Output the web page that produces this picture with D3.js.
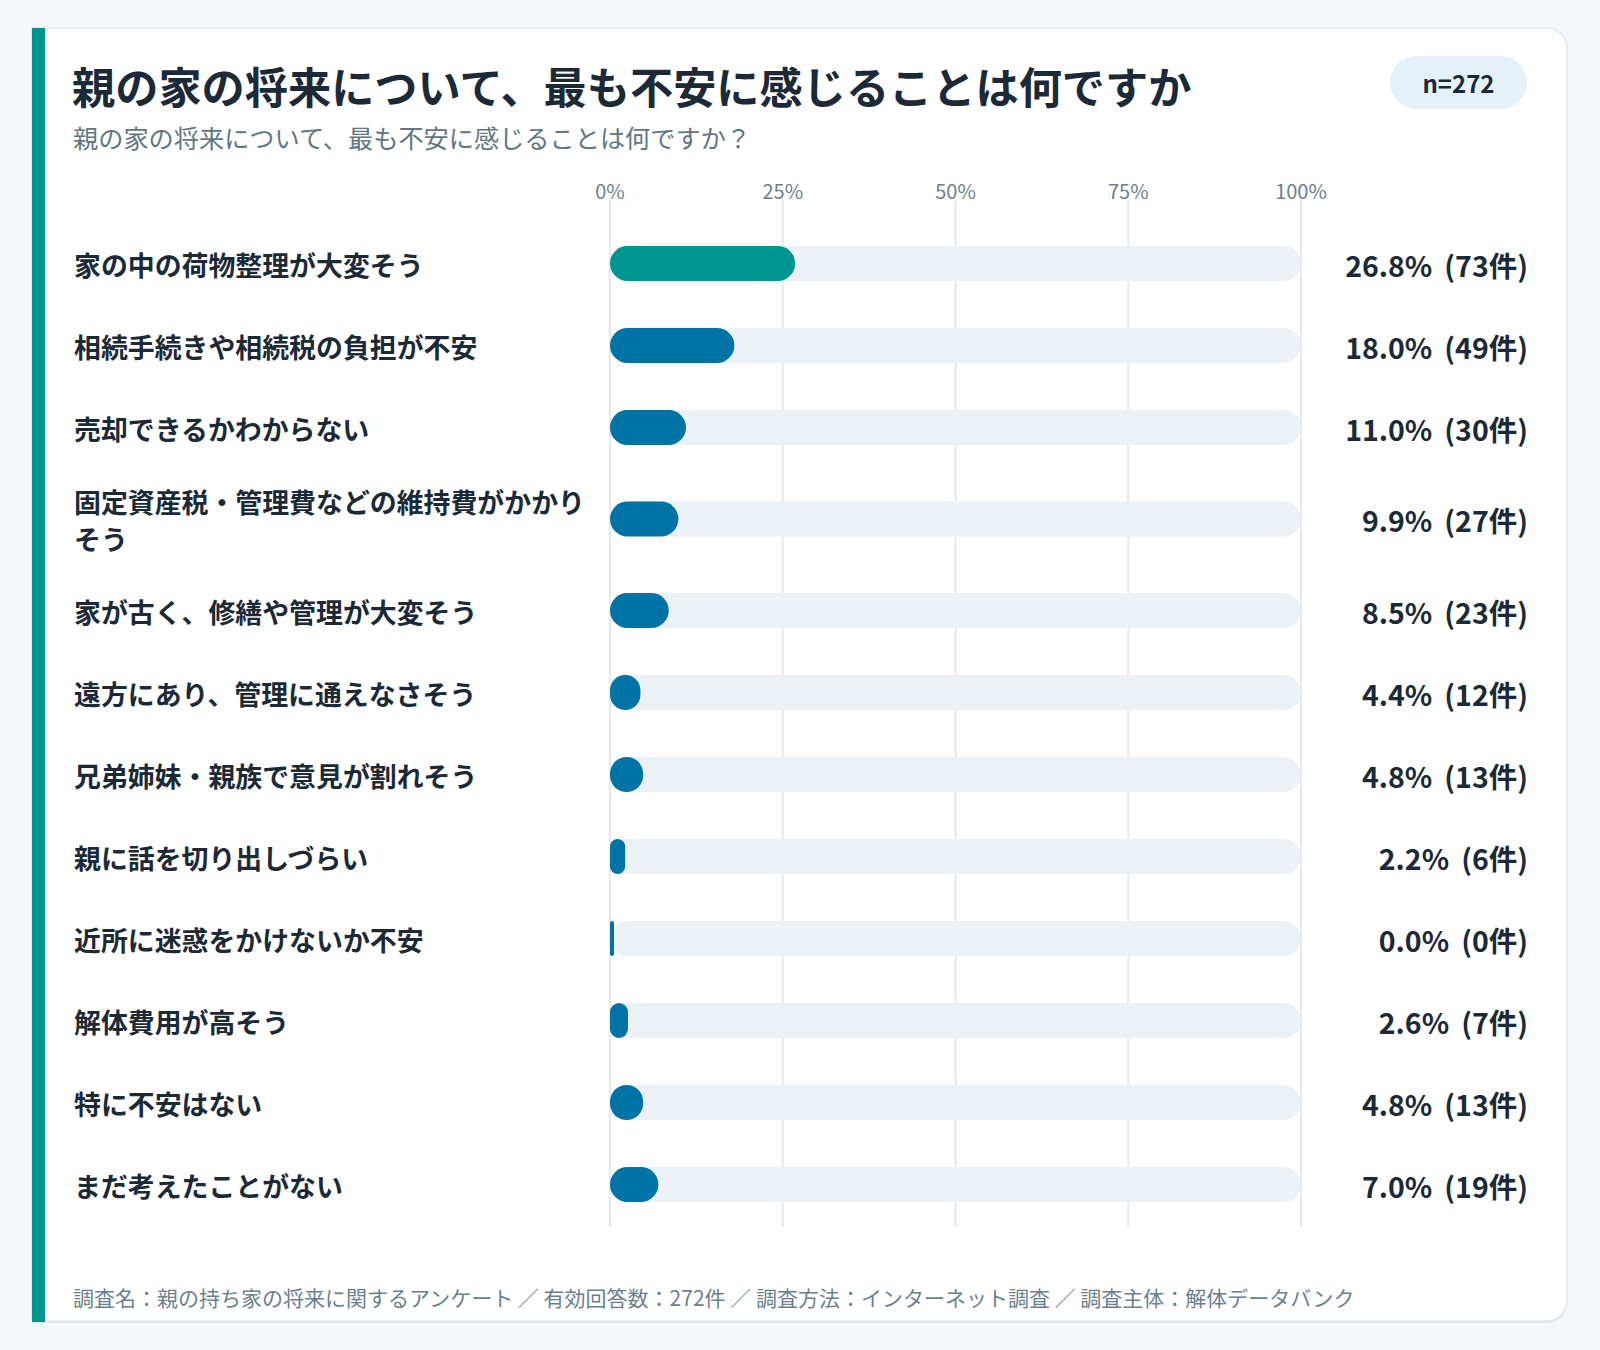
<!DOCTYPE html>
<html>
<head>
<meta charset="utf-8">
<script src="https://cdn.jsdelivr.net/npm/d3@7"></script>
<style>
  body { margin: 0; background: #f4f8fb; }
  svg { display: block; font-family: "Noto Sans CJK JP", "Noto Sans", sans-serif; }
</style>
</head>
<body>
<script>
var width = 1600;
var height = 1350;

var title = "親の家の将来について、最も不安に感じることは何ですか";
var subtitle = "親の家の将来について、最も不安に感じることは何ですか？";
var sampleLabel = "n=272";
var footnote = "調査名：親の持ち家の将来に関するアンケート ／ 有効回答数：272件 ／ 調査方法：インターネット調査 ／ 調査主体：解体データバンク";

var categories = [
    "家の中の荷物整理が大変そう",
    "相続手続きや相続税の負担が不安",
    "売却できるかわからない",
    "固定資産税・管理費などの維持費がかかりそう",
    "家が古く、修繕や管理が大変そう",
    "遠方にあり、管理に通えなさそう",
    "兄弟姉妹・親族で意見が割れそう",
    "親に話を切り出しづらい",
    "近所に迷惑をかけないか不安",
    "解体費用が高そう",
    "特に不安はない",
    "まだ考えたことがない"
];
var percents = [26.8, 18.0, 11.0, 9.9, 8.5, 4.4, 4.8, 2.2, 0.0, 2.6, 4.8, 7.0];
var counts = [73, 49, 30, 27, 23, 12, 13, 6, 0, 7, 13, 19];
var tickValues = [0, 25, 50, 75, 100];

var ink = "#1b2a36";
var muted = "#617684";

var svg = d3.select("body").append("svg")
    .attr("width", width)
    .attr("height", height);

// card
var cx0 = 32, cx1 = 1567, cy0 = 28, cy1 = 1321, r = 20;
function cardPath(dy) {
    return "M" + cx0 + "," + (cy0 + dy) +
        " H" + (cx1 - r) + " A" + r + "," + r + " 0 0 1 " + cx1 + "," + (cy0 + r + dy) +
        " V" + (cy1 - r + dy) + " A" + r + "," + r + " 0 0 1 " + (cx1 - r) + "," + (cy1 + dy) +
        " H" + cx0 + " Z";
}
svg.append("path").attr("d", cardPath(2)).attr("fill", "#dbe5eb");
svg.append("path").attr("d", cardPath(0))
    .attr("fill", "#fff")
    .attr("stroke", "#dfe7ed")
    .attr("stroke-width", 1.5);
svg.append("rect")
    .attr("x", cx0).attr("y", cy0)
    .attr("width", 13).attr("height", cy1 - cy0 + 1)
    .attr("fill", "#009690");

// header
svg.append("text")
    .attr("x", 72).attr("y", 85)
    .attr("dominant-baseline", "central")
    .attr("font-size", 43.2).attr("font-weight", 700)
    .attr("fill", ink)
    .text(title);

svg.append("text")
    .attr("x", 73).attr("y", 137)
    .attr("dominant-baseline", "central")
    .attr("font-size", 25.2)
    .attr("fill", muted)
    .text(subtitle);

svg.append("rect")
    .attr("x", 1390).attr("y", 56)
    .attr("width", 137).attr("height", 53)
    .attr("rx", 26.5)
    .attr("fill", "#e5f1f6");
svg.append("text")
    .attr("x", 1458.5).attr("y", 82.5)
    .attr("text-anchor", "middle")
    .attr("dominant-baseline", "central")
    .attr("font-size", 24).attr("font-weight", 700)
    .attr("fill", ink)
    .text(sampleLabel);

// scales
var x = d3.scaleLinear().domain([0, 100]).range([610, 1301]);
var barH = 35;
var labelX = 74;
var labelMax = 520;
var lineGap = 37;
var labelSize = 26.9;

// wrap labels by measuring
var measure = svg.append("text").attr("font-size", labelSize).attr("font-weight", 700);
function wrap(str) {
    var lines = [], cur = "";
    for (var i = 0; i < str.length; i++) {
        measure.text(cur + str[i]);
        if (cur && measure.node().getComputedTextLength() > labelMax) {
            lines.push(cur);
            cur = str[i];
        } else {
            cur += str[i];
        }
    }
    lines.push(cur);
    return lines;
}
var wrapped = categories.map(wrap);
measure.remove();

var rowTop = 222.5;
var centers = [];
wrapped.forEach(function (lines) {
    var h = 82 + 19 * (lines.length - 1);
    centers.push(rowTop + h / 2);
    rowTop += h;
});

// grid + axis labels
var axis = svg.append("g");
axis.selectAll("line")
    .data(tickValues)
    .enter()
    .append("line")
    .attr("x1", function (d) { return x(d); })
    .attr("x2", function (d) { return x(d); })
    .attr("y1", 200)
    .attr("y2", 1227)
    .attr("stroke", "#e4e9ee")
    .attr("stroke-width", 2);
axis.selectAll("text")
    .data(tickValues)
    .enter()
    .append("text")
    .attr("x", function (d) { return x(d); })
    .attr("y", 190)
    .attr("text-anchor", "middle")
    .attr("dominant-baseline", "central")
    .attr("font-size", 20)
    .attr("fill", "#6b7f8c")
    .text(function (d) { return d + "%"; });

var maxIndex = percents.indexOf(d3.max(percents));

var rows = svg.selectAll("g.row")
    .data(categories)
    .enter()
    .append("g")
    .attr("class", "row")
    .attr("transform", function (d, i) { return "translate(0," + centers[i] + ")"; });

rows.append("rect")
    .attr("x", x(0))
    .attr("y", -barH / 2)
    .attr("width", x(100) - x(0))
    .attr("height", barH)
    .attr("rx", barH / 2)
    .attr("fill", "#ecf1f5");

function barW(i) { return Math.max(x(percents[i]) - x(0), 4); }

rows.append("rect")
    .attr("x", x(0))
    .attr("y", -barH / 2)
    .attr("width", function (d, i) { return barW(i); })
    .attr("height", barH)
    .attr("rx", function (d, i) { return Math.min(barW(i), barH) / 2; })
    .attr("ry", function (d, i) { return Math.min(barW(i), barH) / 2; })
    .attr("fill", function (d, i) { return i === maxIndex ? "#009690" : "#0073a6"; });

rows.append("text")
    .attr("font-size", labelSize)
    .attr("font-weight", 700)
    .attr("fill", ink)
    .each(function (d, i) {
        var lines = wrapped[i];
        var t = d3.select(this);
        lines.forEach(function (line, j) {
            t.append("tspan")
                .attr("x", labelX)
                .attr("y", (j - (lines.length - 1) / 2) * lineGap + 1)
                .attr("dominant-baseline", "central")
                .text(line);
        });
    });

var values = rows.append("text")
    .attr("x", 1528)
    .attr("y", 0)
    .attr("text-anchor", "end")
    .attr("dominant-baseline", "central")
    .attr("font-size", 28.5)
    .attr("font-weight", 700)
    .attr("fill", ink);
values.append("tspan")
    .text(function (d, i) { return percents[i].toFixed(1) + "%"; });
values.append("tspan")
    .attr("dx", 12)
    .text(function (d, i) { return "(" + counts[i] + "件)"; });

// footer
svg.append("text")
    .attr("x", 73).attr("y", 1297)
    .attr("dominant-baseline", "central")
    .attr("font-size", 21)
    .attr("fill", "#6b7f8c")
    .text(footnote);
</script>
</body>
</html>
